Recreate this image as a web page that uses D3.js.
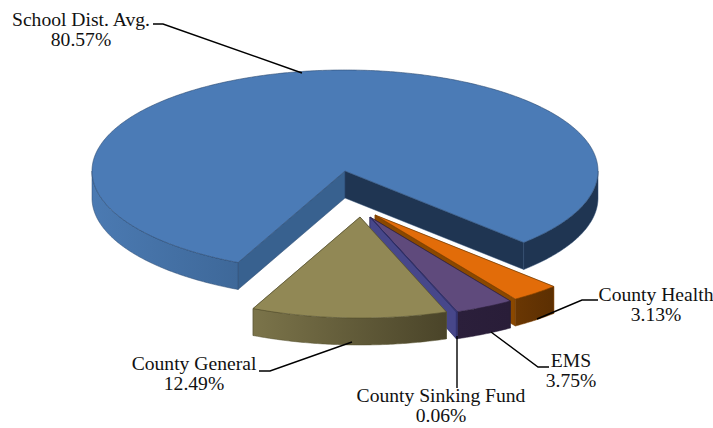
<!DOCTYPE html>
<html>
<head>
<meta charset="utf-8">
<script src="https://cdnjs.cloudflare.com/ajax/libs/d3/7.8.5/d3.min.js"></script>
<style>
  html, body { margin: 0; padding: 0; background: #fff; }
  text { font-family: "Liberation Serif", serif; font-size: 18px; fill: #111; }
</style>
</head>
<body>
<svg id="chart" width="713" height="428"></svg>
<script>
// Property tax distribution by taxing entity, in percent, clockwise from the large slice.
const categories = ["School Dist. Avg.", "County Health", "EMS", "County Sinking Fund", "County General"];
const shares = [80.57, 3.13, 3.75, 0.06, 12.49];

// Top face, the two cut faces and the outer wall gradient per slice.
const topColors  = ["#4b7bb6", "#e26c09", "#5f4a7c", "#4a4a8c", "#918855"];
const startCut   = ["#38618f", "#7a3e00", "#2b1f3b", "#47478a", "#6a6340"];
const endCut     = ["#1f3552", "#8a4800", "#47478a", "#47478a", "#4b4529"];
const wallFrom   = ["#4b7ab2", "#6a3703", "#2b1f3b", "#47478a", "#7b744a"];
const wallTo     = ["#3e6899", "#5c2f02", "#291d38", "#47478a", "#4a4429"];
const edgeColors = ["#2c4a70", "#7a3e00", "#2b1f3b", "#2b2b60", "#55502f"];

// Layout of the tilted pie.
const cx = 345, cy = 171, rx = 253, ry = 101, depth = 27;
const exploded = [[0, 0], [30, 44], [25, 46], [25, 46], [15, 46]];

const labelAt = [[81, 26], [656, 301], [571, 367], [441, 402], [194, 370]];
const leaders = [
  [[153, 24], [163, 24], [302, 73]],
  [[598, 300], [582, 300], [537, 319]],
  [[549, 367], [538, 367], [491, 332]],
  [[457, 336], [457, 388]],
  [[259, 371], [270, 371], [352, 342]]
];

const svg = d3.select("#chart");
const defs = svg.append("defs");

const arcs = d3.pie()
  .sort(null)
  .value(d => d)
  .startAngle(-155 * Math.PI / 180)
  .endAngle(205 * Math.PI / 180)(shares);

const pathLine = d3.line();

function slicePoint(i, angle, drop) {
  const [dx, dy] = exploded[i];
  return [
    cx + dx + rx * Math.sin(angle),
    cy + dy - ry * Math.cos(angle) + (drop || 0)
  ];
}

function sampleAngles(a0, a1) {
  const n = Math.max(2, Math.ceil((a1 - a0) / 0.01));
  return d3.range(n + 1).map(j => a0 + (a1 - a0) * j / n);
}

// Visible stretches of the rim: only the front half of the ellipse faces the viewer.
function frontRanges(a0, a1) {
  const out = [];
  for (const k of [-1, 0, 1]) {
    const lo = Math.max(a0, Math.PI / 2 + k * 2 * Math.PI);
    const hi = Math.min(a1, 3 * Math.PI / 2 + k * 2 * Math.PI);
    if (hi > lo) out.push([lo, hi]);
  }
  return out;
}

function addGradient(id, x1, x2, from, to) {
  const g = defs.append("linearGradient")
    .attr("id", id)
    .attr("gradientUnits", "userSpaceOnUse")
    .attr("x1", x1).attr("x2", x2).attr("y1", 0).attr("y2", 0);
  g.append("stop").attr("offset", "0%").attr("stop-color", from);
  g.append("stop").attr("offset", "100%").attr("stop-color", to);
}

arcs.forEach((arc, i) => {
  const g = svg.append("g").attr("class", "slice");
  const center = [cx + exploded[i][0], cy + exploded[i][1]];
  const a0 = arc.startAngle, a1 = arc.endAngle;

  // Cut faces
  const cutFace = (angle, fill) => {
    const p = slicePoint(i, angle, 0);
    const q = slicePoint(i, angle, depth);
    g.append("path")
      .attr("d", pathLine([center, p, q, [center[0], center[1] + depth]]) + "Z")
      .attr("fill", fill)
      .attr("stroke", edgeColors[i])
      .attr("stroke-width", 0.5);
  };
  cutFace(a0, startCut[i]);
  cutFace(a1, endCut[i]);

  // Outer rim
  frontRanges(a0, a1).forEach(([lo, hi], r) => {
    const top = sampleAngles(lo, hi).map(a => slicePoint(i, a, 0));
    const bottom = sampleAngles(lo, hi).map(a => slicePoint(i, a, depth)).reverse();
    let fill;
    if (i === 0 && lo > 0) {
      // The right-hand rim of the large slice sits in shadow.
      fill = endCut[0];
    } else {
      const id = `rim-${i}-${r}`;
      const xs = top.map(p => p[0]);
      addGradient(id, d3.min(xs), d3.max(xs), wallFrom[i], wallTo[i]);
      fill = `url(#${id})`;
    }
    g.append("path")
      .attr("d", pathLine(top.concat(bottom)) + "Z")
      .attr("fill", fill)
      .attr("stroke", edgeColors[i])
      .attr("stroke-width", 0.5);
  });

  // Top face
  const rim = sampleAngles(a0, a1).map(a => slicePoint(i, a, 0));
  g.append("path")
    .attr("d", pathLine([center].concat(rim)) + "Z")
    .attr("fill", topColors[i])
    .attr("stroke", edgeColors[i])
    .attr("stroke-width", 0.6)
    .attr("stroke-linejoin", "round");
});

// Leader lines
svg.append("g")
  .selectAll("path")
  .data(leaders)
  .join("path")
  .attr("d", d => pathLine(d))
  .attr("fill", "none")
  .attr("stroke", "#000")
  .attr("stroke-width", 1.4);

// Two-line labels: name, then share
const labels = svg.append("g")
  .selectAll("text")
  .data(categories)
  .join("text")
  .attr("text-anchor", "middle")
  .attr("transform", (d, i) => `translate(${labelAt[i][0]},${labelAt[i][1]}) scale(1.09,1)`);
labels.append("tspan").attr("x", 0).attr("y", 0).text(d => d);
labels.append("tspan").attr("x", 0).attr("y", 20)
  .text((d, i) => d3.format(".2f")(shares[i]) + "%");
</script>
</body>
</html>
